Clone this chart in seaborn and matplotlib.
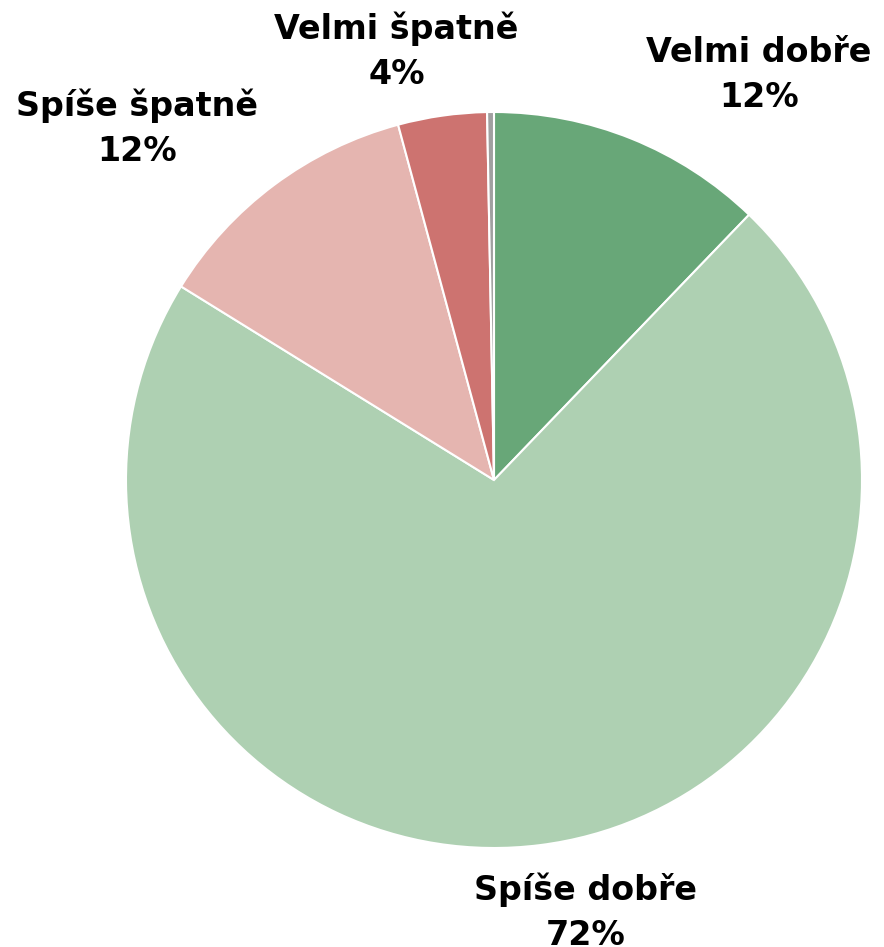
import seaborn as sns
import matplotlib.pyplot as plt

# data
categories = ['Velmi dobře', 'Spíše dobře', 'Spíše špatně', 'Velmi špatně', 'Nevím']
values = [12.2, 71.7, 12.0, 3.9, 0.3]
colors = ['#68A778', '#AED0B2', '#E5B5B0', '#CD7370', '#A0A0A0']

# where the labels sit (axes data units, pie radius = 1)
label_pos = [(0.72, 1.10), (0.25, -1.175), (-0.97, 0.955), (-0.265, 1.165), None]

sns.set_theme(style='white')
plt.rcParams['font.family'] = ['DejaVu Sans']

fig = plt.figure(figsize=(8.84, 9.47), dpi=100)
ax = fig.add_axes([0, 0, 1, 1])

wedges, _ = ax.pie(values, colors=sns.color_palette(colors), startangle=90,
                   counterclock=False,
                   wedgeprops=dict(edgecolor='white', linewidth=1.5))

for cat, val, pos in zip(categories, values, label_pos):
    if pos is None:
        continue
    ax.text(pos[0], pos[1], f'{cat}\n{val:.0f}%', ha='center', va='center',
            multialignment='center', fontsize=24, fontweight='bold',
            color='black', linespacing=1.45)

# pie centre at (494, 480) px, radius 368 px
ax.set_xlim(-494 / 368, (884 - 494) / 368)
ax.set_ylim(-(947 - 480) / 368, 480 / 368)
ax.axis('off')

fig.savefig('out.png', dpi=100)
